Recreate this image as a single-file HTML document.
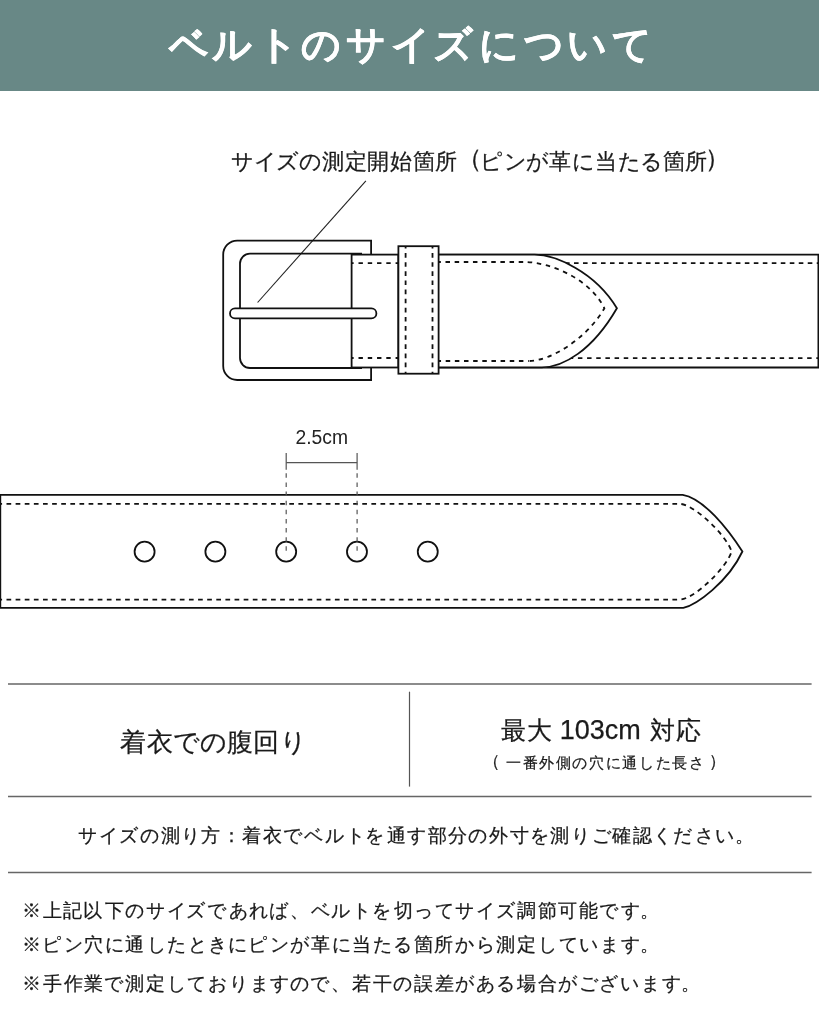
<!DOCTYPE html>
<html lang="ja">
<head>
<meta charset="utf-8">
<title>ベルトのサイズについて</title>
<style>
html,body{margin:0;padding:0;background:#fff;}
body{width:819px;height:1024px;position:relative;overflow:hidden;font-family:"Liberation Sans",sans-serif;color:#222;}
.hdr{position:absolute;left:0;top:0;width:819px;height:91px;background:#688886;}
.tl{position:absolute;left:0;height:0;white-space:nowrap;line-height:1;will-change:transform;}
.tl span{position:absolute;top:0;white-space:nowrap;}
svg{position:absolute;left:0;top:0;}
</style>
</head>
<body>
<div class="hdr"></div>
<svg width="819" height="1024" viewBox="0 0 819 1024">
<line x1="365.9" y1="180.8" x2="257.6" y2="302.5" stroke="#222" stroke-width="1.1"/>
<g fill="#fff" stroke="#111" stroke-width="1.8">
<path d="M430,254.6 H818.4 V367.5 H430"/>
<g fill="none"><line x1="544.7" y1="263.2" x2="818.6" y2="263.2" stroke-dasharray="4.6 4.390" stroke-dashoffset="6.660"/><line x1="544.7" y1="358.15" x2="818.6" y2="358.15" stroke-dasharray="4.5 4.670" stroke-dashoffset="3.480"/></g>
<path d="M430,254.7 H534.5 C555.1,254.7 594.8,271.5 616.9,308.2 C592.1,351.1 562.6,367.4 541.8,367.4 H430 Z"/>
<g fill="none"><line x1="436.35" y1="262" x2="525.3" y2="262" stroke-dasharray="4.5 4.650" stroke-dashoffset="0.000"/><line x1="436.35" y1="361" x2="528.8" y2="361" stroke-dasharray="4.5 4.650" stroke-dashoffset="8.950"/><path stroke-dasharray="4.5 4.65" stroke-dashoffset="6.60" d="M525.3,262 C546.2,262 588.8,276.4 604.4,308.3 C586.7,338.7 550.7,361 528.8,361"/></g>
<path fill="none" d="M371.1,254.6 V240.6 H237.2 A14,14 0 0 0 223.2,254.6 V366 A14,14 0 0 0 237.2,380 H371.1 V367.4"/>
<path fill="none" d="M362,253.6 H250 A10,10 0 0 0 240,263.6 V358 A10,10 0 0 0 250,368 H362"/>
<rect x="351.6" y="254.6" width="46.8" height="112.9"/>
<g fill="none"><line x1="352" y1="263.2" x2="398" y2="263.2" stroke-dasharray="4.4 4.870" stroke-dashoffset="2.770"/><line x1="352" y1="358" x2="398" y2="358" stroke-dasharray="4.4 4.870" stroke-dashoffset="2.770"/></g>
<rect x="230" y="308.4" width="146.4" height="10" rx="5"/>
<rect x="398.4" y="246.2" width="40.2" height="127.5"/>
<g fill="none"><line x1="405.6" y1="247" x2="405.6" y2="373" stroke-dasharray="4.7 4.430" stroke-dashoffset="3.130"/><line x1="432.5" y1="247" x2="432.5" y2="373" stroke-dasharray="4.7 4.430" stroke-dashoffset="3.130"/></g>
</g>
<g fill="#fff" stroke="#111" stroke-width="1.8">
<path d="M0.3,494.9 H682.7 C703.9,498.5 728,529.3 742.4,551.5 C728,582.2 696.3,604.9 683.3,607.9 H0.3 Z"/>
<g fill="none"><line x1="0" y1="503.85" x2="679.4" y2="503.85" stroke-dasharray="4.7 4.422" stroke-dashoffset="2.622"/><line x1="0" y1="599.6" x2="679.4" y2="599.6" stroke-dasharray="4.7 4.422" stroke-dashoffset="2.622"/>
<path stroke-dasharray="4.7 4.422" stroke-dashoffset="7" d="M679.4,503.85 C694.2,503.85 727.1,536.2 731.6,551.6 C727.1,566.9 694.2,599.6 679.4,599.6"/></g>
<circle cx="144.60" cy="551.65" r="10"/><circle cx="215.39" cy="551.65" r="10"/><circle cx="286.18" cy="551.65" r="10"/><circle cx="356.97" cy="551.65" r="10"/><circle cx="427.76" cy="551.65" r="10"/>
</g>
<g stroke="#555" stroke-width="1.2" fill="none">
<line x1="286.2" y1="453.1" x2="286.2" y2="469.7"/>
<line x1="357.1" y1="453.1" x2="357.1" y2="469.7"/>
<line x1="286.2" y1="462.6" x2="357.1" y2="462.6"/>
<g stroke-dasharray="4.5 4.625"><line x1="286.2" y1="473.3" x2="286.2" y2="551"/><line x1="357.1" y1="473.3" x2="357.1" y2="551"/></g>
</g>
<g stroke="#666" stroke-width="1.5">
<line x1="8" y1="684" x2="811.6" y2="684"/>
<line x1="8" y1="796.6" x2="811.6" y2="796.6"/>
<line x1="8" y1="872.6" x2="811.6" y2="872.6"/>
</g>
<line x1="409.5" y1="691.7" x2="409.5" y2="786.6" stroke="#555" stroke-width="1.2"/>
</svg>
<div class="tl" id="h1" style="top:24.80px;font-size:39.000px;color:#fff;font-weight:bold;-webkit-text-stroke:0.4px #fff;"><span style="left:168.76px">ベ</span><span style="left:212.46px">ル</span><span style="left:257.85px">ト</span><span style="left:301.34px">の</span><span style="left:345.81px">サ</span><span style="left:390.76px">イ</span><span style="left:433.17px">ズ</span><span style="left:478.76px">に</span><span style="left:523.56px">つ</span><span style="left:567.43px">い</span><span style="left:612.18px">て</span></div>
<div class="tl" id="cap" style="top:150.50px;font-size:21.954px;color:#1a1a1a;-webkit-text-stroke:0.25px #1a1a1a;"><span style="left:230.74px">サ</span><span style="left:253.81px">イ</span><span style="left:275.57px">ズ</span><span style="left:298.91px">の</span><span style="left:321.68px">測</span><span style="left:344.89px">定</span><span style="left:367.36px">開</span><span style="left:390.25px">始</span><span style="left:412.62px">箇</span><span style="left:435.30px">所</span><span style="left:457.27px;top:-5.38px;font-size:25.47px">（</span><span style="left:480.14px">ピ</span><span style="left:503.75px">ン</span><span style="left:526.14px">が</span><span style="left:549.19px">革</span><span style="left:571.88px">に</span><span style="left:594.91px">当</span><span style="left:617.63px">た</span><span style="left:639.72px">る</span><span style="left:662.65px">箇</span><span style="left:685.33px">所</span><span style="left:705.24px;top:-5.38px;font-size:25.47px">）</span></div>
<div class="tl" id="c1" style="top:729.60px;font-size:25.572px;color:#1a1a1a;-webkit-text-stroke:0.25px #1a1a1a;"><span style="left:120.36px">着</span><span style="left:147.33px">衣</span><span style="left:172.68px">で</span><span style="left:199.99px">の</span><span style="left:226.90px">腹</span><span style="left:253.31px">回</span><span style="left:279.98px">り</span></div>
<div class="tl" id="c2" style="top:718.80px;font-size:24.550px;color:#1a1a1a;-webkit-text-stroke:0.25px #1a1a1a;"><span style="left:501.23px">最</span><span style="left:526.71px">大</span><span style="left:559.76px;top:-2.5px;font-size:27px;">103cm</span><span style="left:649.86px">対</span><span style="left:675.59px">応</span></div>
<div class="tl" id="c3a" style="top:756.50px;font-size:14.957px;color:#1a1a1a;-webkit-text-stroke:0.25px #1a1a1a;"><span style="left:483.48px;top:-3.66px;font-size:17.35px">（</span></div>
<div class="tl" id="c3b" style="top:756.40px;font-size:14.948px;color:#1a1a1a;-webkit-text-stroke:0.25px #1a1a1a;"><span style="left:506.24px">一</span><span style="left:522.85px">番</span><span style="left:539.40px">外</span><span style="left:555.94px">側</span><span style="left:572.36px">の</span><span style="left:589.06px">穴</span><span style="left:605.63px">に</span><span style="left:622.29px">通</span><span style="left:639.16px">し</span><span style="left:655.51px">た</span><span style="left:672.02px">長</span><span style="left:688.98px">さ</span></div>
<div class="tl" id="c3c" style="top:756.50px;font-size:14.957px;color:#1a1a1a;-webkit-text-stroke:0.25px #1a1a1a;"><span style="left:708.67px;top:-3.66px;font-size:17.35px">）</span></div>
<div class="tl" id="r2" style="top:826.40px;font-size:19.107px;color:#1a1a1a;-webkit-text-stroke:0.25px #1a1a1a;"><span style="left:78.39px">サ</span><span style="left:99.21px">イ</span><span style="left:118.88px">ズ</span><span style="left:139.94px">の</span><span style="left:160.50px">測</span><span style="left:181.36px">り</span><span style="left:201.48px">方</span><span style="left:222.02px">：</span><span style="left:242.47px">着</span><span style="left:263.34px">衣</span><span style="left:283.01px">で</span><span style="left:304.26px">ベ</span><span style="left:324.57px">ル</span><span style="left:345.63px">ト</span><span style="left:365.33px">を</span><span style="left:386.55px">通</span><span style="left:407.45px">す</span><span style="left:427.79px">部</span><span style="left:448.06px">分</span><span style="left:468.34px">の</span><span style="left:489.07px">外</span><span style="left:509.61px">寸</span><span style="left:529.53px">を</span><span style="left:550.47px">測</span><span style="left:571.33px">り</span><span style="left:591.51px">ご</span><span style="left:612.22px">確</span><span style="left:632.56px">認</span><span style="left:653.00px">く</span><span style="left:673.23px">だ</span><span style="left:695.00px">さ</span><span style="left:714.73px">い</span><span style="left:734.64px">。</span></div>
<div class="tl" id="n1" style="top:900.75px;font-size:19.107px;color:#1a1a1a;-webkit-text-stroke:0.25px #1a1a1a;"><span style="left:22.07px">※</span><span style="left:42.90px">上</span><span style="left:63.31px">記</span><span style="left:83.27px">以</span><span style="left:104.76px">下</span><span style="left:125.16px">の</span><span style="left:145.81px">サ</span><span style="left:166.72px">イ</span><span style="left:186.49px">ズ</span><span style="left:207.04px">で</span><span style="left:228.70px">あ</span><span style="left:249.16px">れ</span><span style="left:269.27px">ば</span><span style="left:289.86px">、</span><span style="left:310.86px">ベ</span><span style="left:331.27px">ル</span><span style="left:352.42px">ト</span><span style="left:372.22px">を</span><span style="left:393.87px">切</span><span style="left:414.04px">っ</span><span style="left:434.88px">て</span><span style="left:455.11px">サ</span><span style="left:476.02px">イ</span><span style="left:495.79px">ズ</span><span style="left:517.01px">調</span><span style="left:537.70px">節</span><span style="left:558.43px">可</span><span style="left:578.87px">能</span><span style="left:598.82px">で</span><span style="left:620.73px">す</span><span style="left:640.14px">。</span></div>
<div class="tl" id="n2" style="top:934.50px;font-size:19.107px;color:#1a1a1a;-webkit-text-stroke:0.25px #1a1a1a;"><span style="left:22.07px">※</span><span style="left:42.16px">ピ</span><span style="left:63.54px">ン</span><span style="left:84.10px">穴</span><span style="left:104.73px">に</span><span style="left:125.47px">通</span><span style="left:146.50px">し</span><span style="left:166.84px">た</span><span style="left:187.77px">と</span><span style="left:208.37px">き</span><span style="left:228.45px">に</span><span style="left:248.36px">ピ</span><span style="left:269.74px">ン</span><span style="left:290.06px">が</span><span style="left:310.96px">革</span><span style="left:331.55px">に</span><span style="left:352.43px">当</span><span style="left:373.04px">た</span><span style="left:393.10px">る</span><span style="left:413.90px">箇</span><span style="left:434.48px">所</span><span style="left:455.40px">か</span><span style="left:475.86px">ら</span><span style="left:496.36px">測</span><span style="left:517.40px">定</span><span style="left:538.28px">し</span><span style="left:558.60px">て</span><span style="left:578.90px">い</span><span style="left:600.08px">ま</span><span style="left:620.73px">す</span><span style="left:640.14px">。</span></div>
<div class="tl" id="n3" style="top:973.90px;font-size:19.107px;color:#1a1a1a;-webkit-text-stroke:0.25px #1a1a1a;"><span style="left:22.07px">※</span><span style="left:42.92px">手</span><span style="left:63.62px">作</span><span style="left:84.21px">業</span><span style="left:103.94px">で</span><span style="left:125.20px">測</span><span style="left:146.24px">定</span><span style="left:167.12px">し</span><span style="left:187.44px">て</span><span style="left:208.02px">お</span><span style="left:228.63px">り</span><span style="left:249.54px">ま</span><span style="left:270.19px">す</span><span style="left:290.12px">の</span><span style="left:310.14px">で</span><span style="left:331.10px">、</span><span style="left:352.04px">若</span><span style="left:372.82px">干</span><span style="left:393.22px">の</span><span style="left:414.13px">誤</span><span style="left:434.56px">差</span><span style="left:455.02px">が</span><span style="left:476.14px">あ</span><span style="left:496.20px">る</span><span style="left:517.25px">場</span><span style="left:537.91px">合</span><span style="left:558.12px">が</span><span style="left:578.82px">ご</span><span style="left:599.38px">ざ</span><span style="left:620.14px">い</span><span style="left:641.32px">ま</span><span style="left:661.97px">す</span><span style="left:681.38px">。</span></div>
<div class="tl" style="top:427.6px;font-size:19.3px;color:#222;font-family:&quot;Liberation Sans&quot;,sans-serif"><span style="left:295.5px">2.5cm</span></div>
</body>
</html>
